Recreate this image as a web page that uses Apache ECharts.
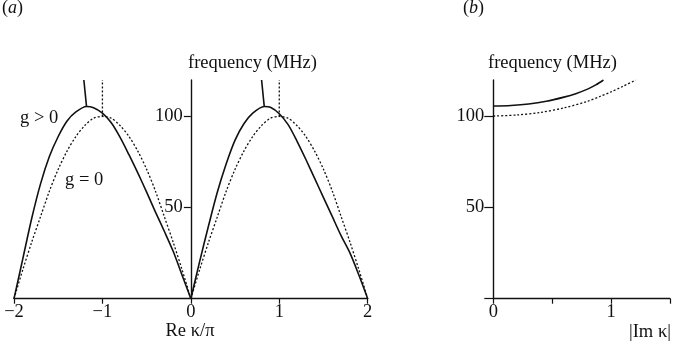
<!DOCTYPE html>
<html><head><meta charset="utf-8">
<script src="https://cdn.jsdelivr.net/npm/echarts@6/dist/echarts.min.js"></script>
<style>html,body{margin:0;padding:0;background:#fff}#c{width:679px;height:342px}</style>
</head><body><div id="c"></div><script>
// ---- data ----
// panel (a): Re k/pi vs frequency (MHz)
const solidLeftK  = [-2, -1.9, -1.8, -1.7, -1.6, -1.5, -1.4, -1.3, -1.18, -1.1, -1.0, -0.9, -0.8, -0.7, -0.6, -0.5, -0.4, -0.3, -0.2, -0.1, 0];
const solidLeftF  = [0, 22, 44, 63, 78, 89, 97.5, 102.5, 105.5, 104.8, 101.8, 96.5, 88.5, 79, 69, 58.5, 47.5, 37, 26, 13, 0];
const solidRightK = [0, 0.1, 0.2, 0.3, 0.4, 0.5, 0.6, 0.7, 0.83, 0.9, 1.0, 1.1, 1.2, 1.3, 1.4, 1.5, 1.6, 1.7, 1.8, 1.9, 2];
const solidRightF = [0, 20.5, 40, 58.5, 74, 87, 96, 101.8, 105.5, 105, 101.5, 95.5, 86.5, 76.5, 66, 55.5, 45, 34.5, 25, 13, 0];
const dottedLeftK  = [-2, -1.9, -1.8, -1.7, -1.6, -1.5, -1.4, -1.3, -1.2, -1.1, -1.0, -0.9, -0.8, -0.7, -0.6, -0.5, -0.4, -0.3, -0.2, -0.1, 0];
const dottedLeftF  = [0, 16, 31, 45, 59, 71, 81, 89, 95, 99, 100, 99, 95, 89, 81, 71, 59, 45, 31, 16, 0];
const dottedRightK = [0, 0.1, 0.2, 0.3, 0.4, 0.5, 0.6, 0.7, 0.8, 0.9, 1.0, 1.1, 1.2, 1.3, 1.4, 1.5, 1.6, 1.7, 1.8, 1.9, 2];
const dottedRightF = [0, 16, 31, 45, 59, 71, 81, 89, 95, 99, 100, 99, 95, 89, 81, 71, 59, 45, 31, 16, 0];
// vertical branches rising from the band edges
const stubSolidAK = [-1.18, -1.21];
const stubSolidBK = [0.83, 0.80];
const stubSolidF  = [105.5, 120];
const stubDottedAK = [-1, -1];
const stubDottedBK = [1, 1];
const stubDottedF  = [100, 120];
// panel (b): |Im k| vs frequency (MHz)
const imSolidK  = [0, 0.15, 0.3, 0.45, 0.6, 0.7, 0.8, 0.87, 0.935];
const imSolidF  = [105.7, 106, 106.8, 108.3, 110.6, 112.5, 115, 117.3, 120];
const imDottedK = [0, 0.2, 0.4, 0.6, 0.8, 0.9, 1.0, 1.1, 1.21];
const imDottedF = [100.2, 100.8, 102.2, 104.7, 108.3, 110.8, 113.5, 116.5, 120];
// tick labels
const xTicksA = {'-2': '\u22122', '-1': '\u22121', '0': '0', '1': '1', '2': '2'};
const xTicksB = {'0': '0', '1': '1'};
const yTicksA = [50, 100];
const yTicksB = [50, 100];

// ---- chart ----
const FONT = 'Liberation Serif';
const INK = '#111';
const pairs = (xs, ys) => xs.map((x, i) => [x, ys[i]]);
const chart = echarts.init(document.getElementById('c'), null, {renderer: 'canvas'});

const axisLine = {show: true, onZero: false, lineStyle: {color: INK, width: 1.4}};
const txt = {fontFamily: FONT, fontSize: 18.5, color: INK};

function line(data, xi, dotted, smooth) {
  return {
    type: 'line', xAxisIndex: xi, yAxisIndex: xi, data: data,
    showSymbol: false, symbol: 'none', smooth: smooth ? 0.3 : false,
    silent: true,
    lineStyle: dotted ? {color: INK, width: 1.3, type: [2, 2]} : {color: INK, width: 1.6},
    z: 3
  };
}

const GRID_A_LEFT = 14, GRID_A_W = 353.7;

chart.setOption({
  animation: false,
  backgroundColor: '#fff',
  grid: [
    {left: GRID_A_LEFT, top: 80, width: GRID_A_W, height: 218.7, outerBoundsMode: 'none', containLabel: false},
    {left: 493.3, top: 80, width: 176.7, height: 218.7, outerBoundsMode: 'none', containLabel: false}
  ],
  xAxis: [
    {type: 'value', gridIndex: 0, min: -2, max: 2, interval: 1,
     axisLine: axisLine, splitLine: {show: false},
     axisTick: {show: true, length: 5, lineStyle: {color: INK, width: 1.2}},
     axisLabel: Object.assign({margin: 4, formatter: v => xTicksA[String(v)] || ''}, txt)},
    {type: 'value', gridIndex: 1, min: 0, max: 1.5, interval: 0.5,
     axisLine: axisLine, splitLine: {show: false},
     axisTick: {show: true, length: 5, lineStyle: {color: INK, width: 1.2}},
     axisLabel: Object.assign({margin: 4, formatter: v => xTicksB[String(v)] || ''}, txt)}
  ],
  yAxis: [
    {type: 'value', gridIndex: 0, min: 0, max: 120,
     offset: -GRID_A_W / 2,
     axisLine: axisLine, splitLine: {show: false},
     axisTick: {show: true, length: 7, customValues: yTicksA, lineStyle: {color: INK, width: 1.2}},
     axisLabel: Object.assign({margin: 8, customValues: yTicksA}, txt)},
    {type: 'value', gridIndex: 1, min: 0, max: 120,
     axisLine: axisLine, splitLine: {show: false},
     axisTick: {show: true, length: 9, customValues: [0].concat(yTicksB), lineStyle: {color: INK, width: 1.2}},
     axisLabel: Object.assign({margin: 9, customValues: yTicksB}, txt)}
  ],
  series: [
    line(pairs(solidLeftK, solidLeftF), 0, false, true),
    line(pairs(solidRightK, solidRightF), 0, false, true),
    line(pairs(dottedLeftK, dottedLeftF), 0, true, true),
    line(pairs(dottedRightK, dottedRightF), 0, true, true),
    line(pairs(stubSolidAK, stubSolidF), 0, false, false),
    line(pairs(stubSolidBK, stubSolidF), 0, false, false),
    line(pairs(stubDottedAK, stubDottedF), 0, true, false),
    line(pairs(stubDottedBK, stubDottedF), 0, true, false),
    line(pairs(imSolidK, imSolidF), 1, false, true),
    line(pairs(imDottedK, imDottedF), 1, true, true)
  ],
  graphic: [
    {type: 'text', x: 2, y: 8, style: {text: '{p|(}{i|a}{p|)}', verticalAlign: 'middle',
      rich: {p: {fontFamily: FONT, fontSize: 18, fill: INK}, i: {fontFamily: FONT, fontSize: 18, fontStyle: 'italic', fill: INK}}}},
    {type: 'text', x: 463, y: 8, style: {text: '{p|(}{i|b}{p|)}', verticalAlign: 'middle',
      rich: {p: {fontFamily: FONT, fontSize: 18, fill: INK}, i: {fontFamily: FONT, fontSize: 18, fontStyle: 'italic', fill: INK}}}},
    {type: 'text', x: 188, y: 63, style: {text: 'frequency (MHz)', font: '18.5px "Liberation Serif"', fill: INK, align: 'left', verticalAlign: 'middle'}},
    {type: 'text', x: 488, y: 63, style: {text: 'frequency (MHz)', font: '18.5px "Liberation Serif"', fill: INK, align: 'left', verticalAlign: 'middle'}},
    {type: 'text', x: 20, y: 118, style: {text: 'g > 0', font: '18.5px "Liberation Serif"', fill: INK, align: 'left', verticalAlign: 'middle'}},
    {type: 'text', x: 65, y: 180, style: {text: 'g = 0', font: '18.5px "Liberation Serif"', fill: INK, align: 'left', verticalAlign: 'middle'}},
    {type: 'text', x: 190, y: 331, style: {text: 'Re \u03BA/\u03C0', font: '18.5px "Liberation Serif"', fill: INK, align: 'center', verticalAlign: 'middle'}},
    {type: 'text', x: 629, y: 332, style: {text: '|Im \u03BA|', font: '18.5px "Liberation Serif"', fill: INK, align: 'left', verticalAlign: 'middle'}}
  ]
});
</script></body></html>
